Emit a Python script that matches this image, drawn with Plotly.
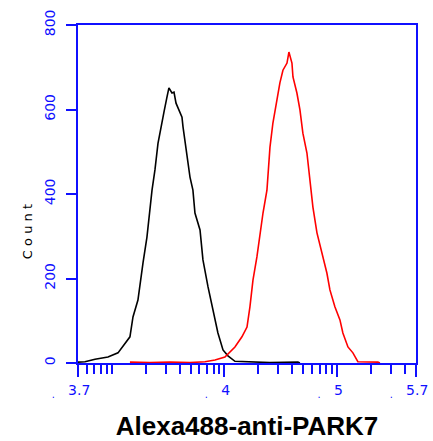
import plotly.graph_objects as go

# Black histogram (isotype/unstained): log10 intensity vs count
black_log_intensity = [2.700, 2.762, 2.851, 2.966, 3.055, 3.117, 3.161, 3.188, 3.232, 3.277,
                       3.312, 3.357, 3.383, 3.410, 3.445, 3.463, 3.490, 3.507, 3.534, 3.552,
                       3.570, 3.605, 3.623, 3.632, 3.667, 3.694, 3.720, 3.738, 3.783, 3.809,
                       3.854, 3.898, 3.942, 3.987, 4.031, 4.093, 4.226, 4.404, 4.652, 4.670]
black_count = [2, 3, 9, 14, 24, 47, 62, 109, 149, 237,
               298, 409, 457, 520, 575, 594, 630, 651, 639, 641,
               615, 592, 582, 559, 488, 440, 409, 355, 315, 244,
               180, 125, 71, 31, 17, 4, 2, 1, 2, 0]

# Red histogram (Alexa488-anti-PARK7)
red_log_intensity = [3.161, 3.339, 3.516, 3.694, 3.827, 3.916, 4.004, 4.093, 4.155, 4.200,
                     4.226, 4.253, 4.288, 4.315, 4.342, 4.377, 4.386, 4.404, 4.430, 4.466,
                     4.492, 4.519, 4.555, 4.572, 4.599, 4.608, 4.643, 4.670, 4.696, 4.732,
                     4.759, 4.785, 4.821, 4.865, 4.909, 4.936, 4.980, 5.025, 5.051, 5.096,
                     5.140, 5.184, 5.362, 5.380]
red_count = [2, 1, 2, 1, 3, 7, 14, 38, 62, 85,
             133, 196, 251, 308, 355, 409, 450, 511, 568, 622,
             663, 693, 710, 736, 710, 677, 639, 599, 544, 497,
             433, 369, 308, 260, 213, 173, 133, 102, 71, 38,
             24, 3, 2, 0]

x_tick_exponents = [2.7, 4, 5, 5.7]
x_tick_labels = ["3.7", "4", "5", "5.7"]
y_tick_values = [0, 200, 400, 600, 800]
x_title = "Alexa488-anti-PARK7"
y_title = "Count"

BLUE = "#1010ff"
FONT = "Liberation Sans"
TICKFONT = "DejaVu Sans"

fig = go.Figure()
fig.add_trace(go.Scatter(x=[10 ** v for v in black_log_intensity], y=black_count,
                         mode="lines", line=dict(color="black", width=1.6), showlegend=False))
fig.add_trace(go.Scatter(x=[10 ** v for v in red_log_intensity], y=red_count,
                         mode="lines", line=dict(color="#ff0000", width=1.6), showlegend=False))

pad = "\u00a0"
ticktext = [f"<sub>.</sub>{pad*3}{t}" for t in x_tick_labels]
minor_vals = [m * 10 ** e for e in (2, 3, 4, 5) for m in range(2, 10)
              if 10 ** 2.7 < m * 10 ** e < 10 ** 5.7] + [1000]

fig.update_xaxes(
    type="log", range=[2.7, 5.7], automargin=False,
    showline=True, linecolor=BLUE, linewidth=2, mirror=True,
    ticks="outside", ticklen=12, tickwidth=2, tickcolor=BLUE,
    tickvals=[10 ** v for v in x_tick_exponents], ticktext=ticktext,
    tickfont=dict(color=BLUE, size=14, family=TICKFONT), tickangle=0,
    ticklabelshift=-7, ticklabeloverflow="allow", ticklabelstandoff=1,
    showgrid=False, zeroline=False,
    minor=dict(tickvals=minor_vals, ticks="outside", ticklen=9, tickwidth=2,
               tickcolor=BLUE, showgrid=False),
    title=dict(text=x_title, font=dict(size=26, family=FONT, color="black", weight="bold"),
               standoff=22),
)
fig.update_yaxes(
    range=[0, 800], automargin=False,
    showline=True, linecolor=BLUE, linewidth=2, mirror=True,
    ticks="outside", ticklen=10, tickwidth=2, tickcolor=BLUE,
    tickvals=y_tick_values, tickangle=-90,
    tickfont=dict(color=BLUE, size=14, family=TICKFONT), ticklabelstandoff=5,
    showgrid=False, zeroline=False,
)
fig.add_annotation(
    text="\u00a0".join(y_title), textangle=-90,
    xref="paper", yref="paper", x=-0.151, y=0.39, xanchor="center", yanchor="middle",
    showarrow=False, font=dict(size=13, family=TICKFONT, color="black"),
)
fig.update_layout(
    width=433, height=441,
    margin=dict(l=78, r=17, t=25, b=78),
    plot_bgcolor="white", paper_bgcolor="white",
)
fig.write_html("out.html", post_script="document.body.style.margin='0';",
               config={"displayModeBar": False})
